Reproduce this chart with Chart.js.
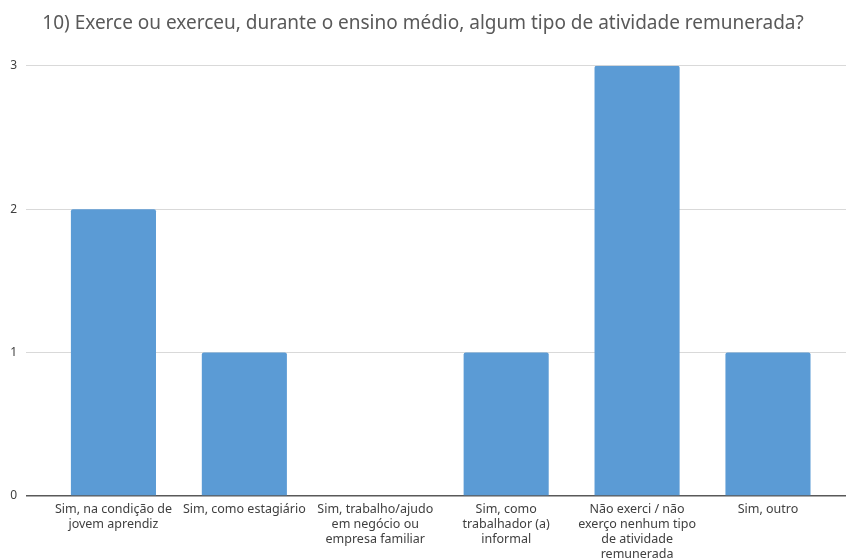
<!DOCTYPE html>
<html>
<head>
<meta charset="utf-8">
<script src="https://cdn.jsdelivr.net/npm/chart.js@4.4.0/dist/chart.umd.min.js"></script>
<style>
  html, body { margin: 0; padding: 0; background: #fff; }
  #wrap { width: 847px; height: 558px; }
</style>
</head>
<body>
<div id="wrap"><canvas id="myChart" width="847" height="558"></canvas></div>
<script>
const chartTitle = '10) Exerce ou exerceu, durante o ensino médio, algum tipo de atividade remunerada?';
const categories = [
  ['Sim, na condição de', 'jovem aprendiz'],
  ['Sim, como estagiário'],
  ['Sim, trabalho/ajudo', 'em negócio ou', 'empresa familiar'],
  ['Sim, como', 'trabalhador (a)', 'informal'],
  ['Não exerci / não', 'exerço nenhum tipo', 'de atividade', 'remunerada'],
  ['Sim, outro']
];
const answers = [2, 1, 0, 1, 3, 1];
const yTicks = [0, 1, 2, 3];

const labelFont = "'Noto Sans', sans-serif";

const ctx = document.getElementById('myChart').getContext('2d');
const myChart = new Chart(ctx, {
  type: 'bar',
  data: {
    datasets: [{
      data: answers.map((v, i) => ({ x: i, y: v })),
      backgroundColor: 'rgb(91, 155, 213)',
      borderWidth: 0,
      borderRadius: { topLeft: 2, topRight: 2 },
      borderSkipped: 'bottom',
      barPercentage: 0.65,
      categoryPercentage: 1
    }]
  },
  options: {
    responsive: false,
    animation: false,
    layout: { padding: { left: 0, right: 1, top: 0, bottom: 0 } },
    plugins: {
      legend: { display: false },
      tooltip: { enabled: false },
      title: {
        display: true,
        text: chartTitle,
        color: '#595959',
        font: { family: labelFont, size: 19, weight: 'normal' },
        padding: { top: 12, bottom: 31 }
      }
    },
    scales: {
      x: {
        type: 'linear',
        offset: false,
        min: -0.668,
        max: 5.596,
        afterBuildTicks: scale => {
          scale.ticks = categories.map((c, i) => ({ value: i }));
        },
        afterFit: scale => { scale.height = 62; },
        grid: { display: false, drawTicks: false, offset: false },
        border: { display: false },
        ticks: {
          autoSkip: false,
          maxRotation: 0,
          padding: 6,
          color: '#404040',
          font: { family: labelFont, size: 12.5, lineHeight: 1.2 },
          callback: value => categories[value]
        }
      },
      y: {
        min: 0,
        max: 3,
        afterBuildTicks: scale => {
          scale.ticks = yTicks.map(v => ({ value: v }));
        },
        afterFit: scale => { scale.width = 26; },
        border: { display: false },
        grid: {
          drawTicks: false,
          color: c => c.tick.value === 0 ? '#595959' : '#d9d9d9',
          lineWidth: c => c.tick.value === 0 ? 1.5 : 1
        },
        ticks: {
          padding: 9,
          color: '#404040',
          font: { family: labelFont, size: 12 }
        }
      }
    }
  }
});
</script>
</body>
</html>
